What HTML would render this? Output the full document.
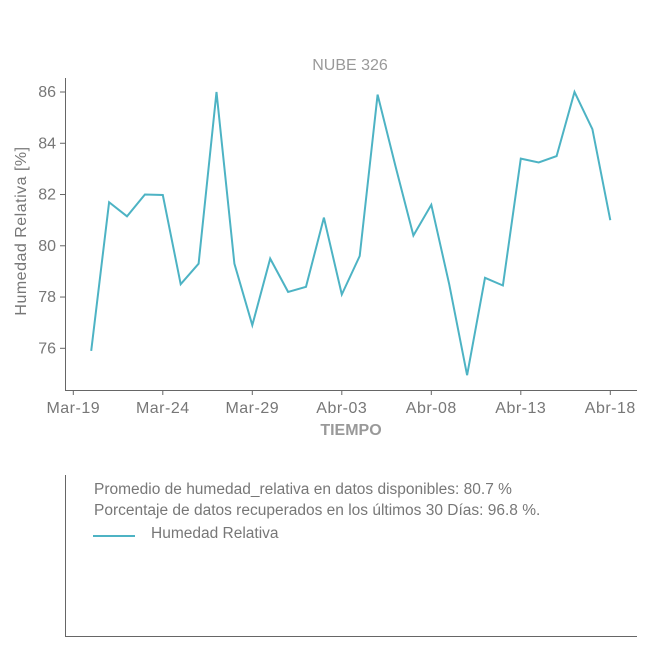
<!DOCTYPE html>
<html><head><meta charset="utf-8"><style>
body{margin:0;background:#fff;font-family:"Liberation Sans",sans-serif;}
</style></head><body>
<svg width="650" height="650" xmlns="http://www.w3.org/2000/svg">
<text x="350" y="70" text-anchor="middle" font-size="16" fill="#999">NUBE 326</text>
<g id="plot"></g>
<line x1="65.5" y1="78" x2="65.5" y2="390" stroke="#666"/>
<line x1="65" y1="390.5" x2="637" y2="390.5" stroke="#666"/>
<text x="351" y="435" text-anchor="middle" font-size="16" font-weight="bold" fill="#999">TIEMPO</text>
<text transform="translate(26,231) rotate(-90)" text-anchor="middle" font-size="16" letter-spacing="0.5" fill="#777">Humedad Relativa [%]</text>
<line x1="65.5" y1="475" x2="65.5" y2="637" stroke="#666"/>
<line x1="65" y1="636.5" x2="637" y2="636.5" stroke="#666"/>
<text x="94" y="494" font-size="15.5" fill="#777">Promedio de humedad_relativa en datos disponibles: 80.7 %</text>
<text x="94" y="515" font-size="15.5" fill="#777">Porcentaje de datos recuperados en los últimos 30 Días: 96.8 %.</text>
<line x1="93" y1="536" x2="135" y2="536" stroke="#4db3c4" stroke-width="2"/>
<text x="151" y="538" font-size="15.5" fill="#777">Humedad Relativa</text>
</svg>
<script>
const values=[75.9,81.7,81.15,82.0,81.98,78.5,79.3,86.0,79.3,76.9,79.5,78.2,78.4,81.1,78.1,79.6,85.9,83.1,80.4,81.6,78.5,74.95,78.75,78.45,83.4,83.25,83.5,86.0,84.55,81.0];
const yTicks=[76,78,80,82,84,86];
const xTickLabels=["Mar-19","Mar-24","Mar-29","Abr-03","Abr-08","Abr-13","Abr-18"];
const xTickDays=[0,5,10,15,20,25,30];
const firstDay=1;
const NS="http://www.w3.org/2000/svg";
const svg=document.querySelector('svg');
const xs=d=>73.3+d*17.9;
const ys=v=>348.3-(v-76)*25.63;
function mk(t,a){const e=document.createElementNS(NS,t);for(const k in a)e.setAttribute(k,a[k]);svg.appendChild(e);return e;}
yTicks.forEach(v=>{
 const l=mk('line',{x1:60,x2:65,y1:ys(v),y2:ys(v),stroke:'#666'});
 
 
 const t=mk('text',{x:56,y:ys(v)+5,'text-anchor':'end','font-size':16,fill:'#777'});
 t.textContent=v;
 
 
});
xTickDays.forEach((d,i)=>{
 const l=mk('line',{x1:xs(d),x2:xs(d),y1:390,y2:395,stroke:'#666'});
 
 
 const t=mk('text',{x:xs(d),y:413,'text-anchor':'middle','font-size':16,'letter-spacing':0.5,fill:'#777'});
 t.textContent=xTickLabels[i];
 
 
});
const pts=values.map((v,i)=>xs(firstDay+i).toFixed(1)+','+ys(v).toFixed(1)).join(' ');
const p=mk('polyline',{points:pts,fill:'none',stroke:'#4db3c4','stroke-width':2});


</script>
</body></html>
